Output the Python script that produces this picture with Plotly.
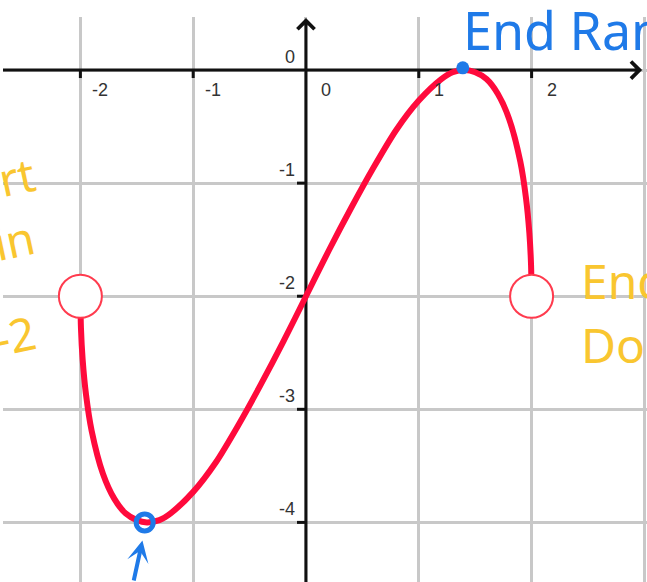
import plotly.graph_objects as go

# Curve samples (x, y)
curve_x = [-2.0, -1.995, -1.98, -1.95, -1.9, -1.8, -1.7, -1.6, -1.5, -1.41, -1.3, -1.2,
           -1.0, -0.8, -0.6, -0.4, -0.2, 0.0, 0.2, 0.4, 0.6, 0.8, 1.0, 1.2, 1.3, 1.41,
           1.5, 1.6, 1.7, 1.8, 1.9, 1.95, 1.98, 1.995, 2.0]
curve_y = [-2.0, -2.28, -2.56, -2.87, -3.19, -3.57, -3.79, -3.92, -3.98, -4.0, -3.98, -3.92,
           -3.73, -3.47, -3.14, -2.78, -2.40, -2.0, -1.60, -1.22, -0.86, -0.53, -0.27, -0.08, -0.02, 0.0,
           -0.02, -0.08, -0.21, -0.43, -0.81, -1.13, -1.44, -1.72, -2.0]

# Excluded endpoints (open circles)
open_x = [-2.0, 2.0]
open_y = [-2.0, -2.0]

# Hand-marked points
min_pt = (-1.43, -4.0)
max_pt = (1.39, 0.02)

x_ticks = [-2, -1, 1, 2]
y_ticks = [-1, -2, -3, -4]
x_grid = [-2, -1, 0, 1, 2, 3]
y_grid = [0, -1, -2, -3, -4]

X_RANGE = [-2.686, 3.023]
Y_RANGE = [-4.527, 0.469]

RED = "#ff0a3c"
BLUE = "#1f7ae8"
YELLOW = "#f9c630"
LABEL = "#333333"
LABEL_FONT = dict(family="Liberation Sans, Arial, sans-serif", size=18, color=LABEL)
HAND_FONT = "Noto Sans, sans-serif"

fig = go.Figure()

# function graph
fig.add_trace(go.Scatter(x=curve_x, y=curve_y, mode="lines",
                         line=dict(color=RED, width=6, shape="spline", smoothing=0.8),
                         hoverinfo="skip", showlegend=False))
# open endpoints
fig.add_trace(go.Scatter(x=open_x, y=open_y, mode="markers",
                         marker=dict(symbol="circle", size=43, color="white",
                                     line=dict(color="#ff3b4e", width=2)),
                         hoverinfo="skip", showlegend=False))
# blue marks
fig.add_trace(go.Scatter(x=[min_pt[0]], y=[min_pt[1]], mode="markers",
                         marker=dict(symbol="circle-open", size=17, color=BLUE,
                                     line=dict(color=BLUE, width=5)),
                         hoverinfo="skip", showlegend=False))
fig.add_trace(go.Scatter(x=[max_pt[0]], y=[max_pt[1]], mode="markers",
                         marker=dict(symbol="circle", size=13, color=BLUE),
                         hoverinfo="skip", showlegend=False))

shapes = []
# axes lines (between gridlines and traces)
shapes.append(dict(type="line", xref="x", yref="y", x0=X_RANGE[0], x1=2.95, y0=0, y1=0,
                   line=dict(color="#111111", width=3), layer="between"))
shapes.append(dict(type="line", xref="x", yref="y", x0=0, x1=0, y0=Y_RANGE[0], y1=0.43,
                   line=dict(color="#111111", width=3), layer="between"))
# tick marks
for v in x_ticks:
    shapes.append(dict(type="line", xref="x", yref="y", ysizemode="pixel", yanchor=0,
                       x0=v, x1=v, y0=0, y1=-8, line=dict(color="#111111", width=3),
                       layer="between"))
for v in y_ticks:
    shapes.append(dict(type="line", xref="x", yref="y", xsizemode="pixel", xanchor=0,
                       x0=0, x1=-9, y0=v, y1=v, line=dict(color="#111111", width=3),
                       layer="between"))

annotations = []
# axis arrowheads
annotations.append(dict(x=2.98, y=0, ax=2.90, ay=0, axref="x", ayref="y", xref="x", yref="y",
                        text="", showarrow=True, arrowhead=4, arrowsize=1.1, arrowwidth=3,
                        arrowcolor="#111111"))
annotations.append(dict(x=0, y=0.46, ax=0, ay=0.38, axref="x", ayref="y", xref="x", yref="y",
                        text="", showarrow=True, arrowhead=4, arrowsize=1.1, arrowwidth=3,
                        arrowcolor="#111111"))
# tick labels
for v in x_ticks + [0]:
    annotations.append(dict(x=v, y=0, xref="x", yref="y", text=str(v),
                            showarrow=False, xanchor="center", yanchor="top",
                            xshift=20, yshift=-8, font=LABEL_FONT))
for v in [0] + y_ticks:
    annotations.append(dict(x=0, y=v, xref="x", yref="y", text=str(v),
                            showarrow=False, xanchor="right", yanchor="bottom",
                            xshift=-9, yshift=1, font=LABEL_FONT))

# handwritten notes
annotations.append(dict(x=1.37, y=0.36, xref="x", yref="y", text="End Range", showarrow=False,
                        xanchor="left", yanchor="middle",
                        font=dict(family=HAND_FONT, size=52, color=BLUE)))
for txt, yy in [("Start", -1.0), ("Domain", -1.62), ("-2", -2.34)]:
    annotations.append(dict(x=-2.33, y=yy, xref="x", yref="y", text=txt, showarrow=False,
                            xanchor="right", yanchor="middle", textangle=-12,
                            font=dict(family=HAND_FONT, size=46, color=YELLOW)))
for txt, yy in [("End", -1.86), ("Domain", -2.43)]:
    annotations.append(dict(x=2.42, y=yy, xref="x", yref="y", text=txt, showarrow=False,
                            xanchor="left", yanchor="middle",
                            font=dict(family=HAND_FONT, size=48, color=YELLOW)))
# arrow pointing at the minimum
annotations.append(dict(x=-1.45, y=-4.16, xref="x", yref="y", ax=-9, ay=50, text="",
                        showarrow=True, arrowhead=3, arrowsize=0.9, arrowwidth=4,
                        arrowcolor=BLUE))

fig.update_layout(
    width=647, height=582,
    margin=dict(l=3, r=0, t=17, b=0),
    paper_bgcolor="white", plot_bgcolor="white",
    showlegend=False,
    shapes=shapes, annotations=annotations,
    xaxis=dict(range=X_RANGE, tickvals=x_grid, showticklabels=False, showgrid=True,
               gridcolor="#c8c8c8", gridwidth=2.5, zeroline=False, showline=False,
               fixedrange=True),
    yaxis=dict(range=Y_RANGE, tickvals=y_grid, showticklabels=False, showgrid=True,
               gridcolor="#c8c8c8", gridwidth=2.5, zeroline=False, showline=False,
               fixedrange=True),
)

fig.write_html("out.html")
